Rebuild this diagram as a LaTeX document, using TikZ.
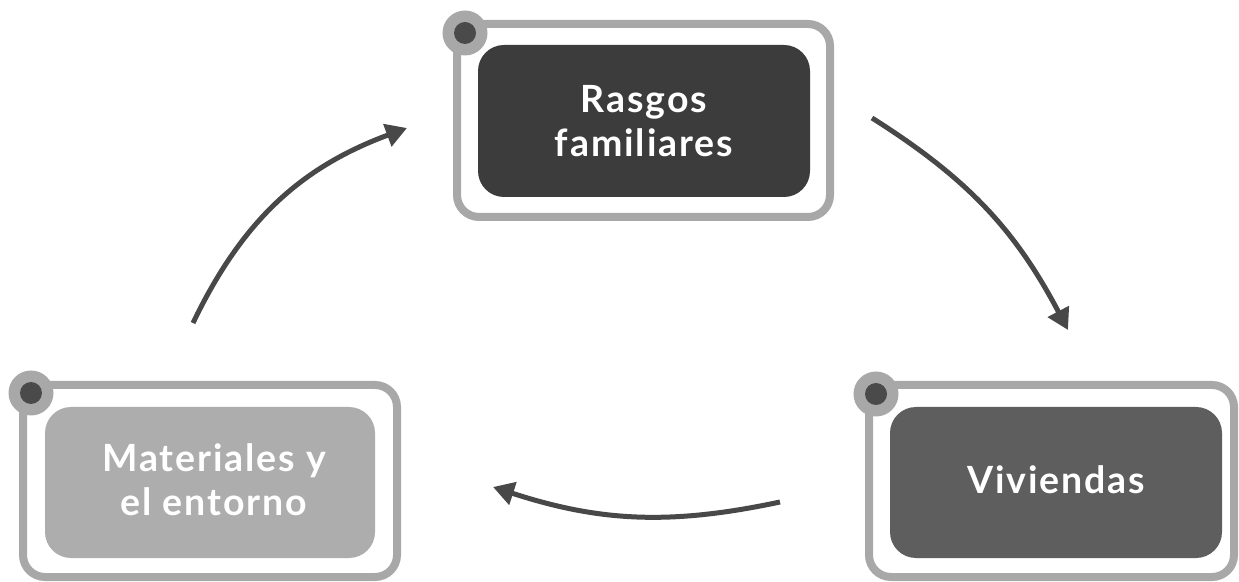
\documentclass[tikz,border=0pt]{standalone}
\usepackage{fontspec}
\setmainfont{Lato}
\newfontfamily\boxfont[LetterSpace=5]{Lato}
\usetikzlibrary{arrows.meta}
\definecolor{framegray}{HTML}{A8A8A8}
\definecolor{dotgray}{HTML}{4A4A4A}
\definecolor{darkfill}{HTML}{3C3C3C}
\definecolor{midfill}{HTML}{5E5E5E}
\definecolor{lightfill}{HTML}{ADADAD}
\definecolor{arrowgray}{HTML}{484848}
\tikzset{
  framebox/.style={draw=framegray, line width=8pt, fill=white, rounded corners=22pt, inner sep=0pt},
  innerbox/.style={rounded corners=26pt, inner sep=0pt, fill=none, text=white, align=center,
    font=\boxfont\fontsize{37.5}{44}\selectfont\bfseries},
  cornerring/.style={circle, fill=framegray, minimum size=45pt, inner sep=0pt},
  cornerdot/.style={circle, fill=dotgray, minimum size=22pt, inner sep=0pt},
  cyclearrow/.style={draw=arrowgray, line width=5pt, -{Triangle[length=21pt,width=23pt]}}
}
\begin{document}
\begin{tikzpicture}[x=1pt,y=1pt]
\useasboundingbox (0,0) rectangle (1239,581);
% top box
\node[framebox, minimum width=373pt, minimum height=193pt] (f1) at (643.5,460.5) {};
\node[rounded corners=26pt, fill=darkfill, minimum width=332pt, minimum height=152pt] (b1) at (644,460) {};
\node[innerbox] (t1) at (b1) {Rasgos\\familiares};
\node[cornerring] (r1) at (465,548) {};
\node[cornerdot] (d1) at (r1) {};
% bottom right
\node[framebox, minimum width=365pt, minimum height=192pt] (f2) at (1051.5,100) {};
\node[rounded corners=26pt, fill=midfill, minimum width=332pt, minimum height=151pt] (b2) at (1056,98.5) {};
\node[innerbox] (t2) at ([yshift=3pt]b2.center) {Viviendas};
\node[cornerring] (r2) at (876,187) {};
\node[cornerdot] (d2) at (r2) {};
% bottom left
\node[framebox, minimum width=374pt, minimum height=192pt] (f3) at (210,100) {};
\node[rounded corners=26pt, fill=lightfill, minimum width=330pt, minimum height=151pt] (b3) at (210,98.5) {};
\node[innerbox] (t3) at ([xshift=4pt,yshift=3pt]b3.center) {Materiales y\\el entorno};
\node[cornerring] (r3) at (31,188) {};
\node[cornerdot] (d3) at (r3) {};
% arrow anchors
\coordinate (a1s) at (193,258);
\coordinate (a1e) at (407,453);
\coordinate (a2s) at (872,463);
\coordinate (a2e) at (1068,251);
\coordinate (a3s) at (780,79);
\coordinate (a3e) at (493,94);
\draw[cyclearrow] (a1s) to[bend left=22] (a1e);
\draw[cyclearrow] (a2s) to[bend left=15] (a2e);
\draw[cyclearrow] (a3s) to[bend left=15] (a3e);
\end{tikzpicture}
\end{document}
